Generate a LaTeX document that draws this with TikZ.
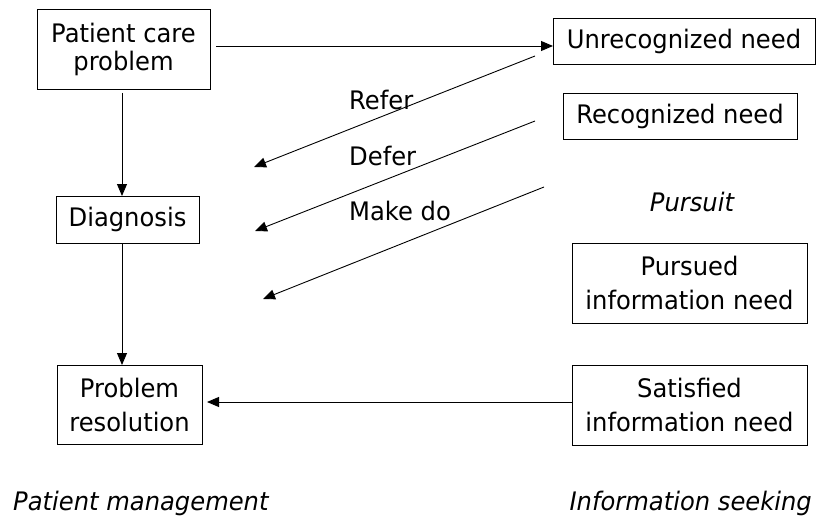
\documentclass[tikz,border=0pt]{standalone}
\usepackage{fontspec}
\setmainfont{DejaVu Sans}[FakeStretch=0.95]
\usetikzlibrary{arrows.meta}
\begin{document}
\begin{tikzpicture}[x=1pt,y=-1pt,
  box/.style={draw, line width=0.9pt, inner sep=0pt, align=center,
    font=\fontsize{25.5}{34}\selectfont},
  tight/.style={font=\fontsize{25.5}{28}\selectfont},
  lbl/.style={inner sep=0pt, font=\fontsize{25.5}{30}\selectfont},
  ital/.style={inner sep=0pt, font=\fontsize{25.5}{30}\selectfont\itshape},
  arr/.style={line width=0.9pt, -{Triangle[length=12pt,width=10pt]}}]
\useasboundingbox (0,0) rectangle (827,516);
\node[box, tight, minimum width=173pt, minimum height=80pt] (pcp) at (123.5,49) {Patient care\\problem};
\node[box, minimum width=143pt, minimum height=47pt] (diag) at (127.5,219.5) {Diagnosis};
\node[box, minimum width=145pt, minimum height=79pt] (pr) at (129.5,404.5) {Problem\\resolution};
\node[box, minimum width=262pt, minimum height=46pt] (unr) at (684,41) {Unrecognized need};
\node[box, minimum width=234pt, minimum height=46pt] (rec) at (680,116) {Recognized need};
\node[box, minimum width=235pt, minimum height=80pt] (pur) at (689.5,283) {Pursued\\information need};
\node[box, minimum width=235pt, minimum height=80pt] (sat) at (689.5,405) {Satisfied\\information need};
\node[ital] (pursuit) at (692,202) {Pursuit};
\node[ital, anchor=base west] (pm) at (13,510) {Patient management};
\node[ital, anchor=base east] (is) at (812,510) {Information seeking};
\node[lbl, anchor=base west] (refer) at (349,110) {Refer};
\node[lbl, anchor=base west] (defer) at (349,165) {Defer};
\node[lbl, anchor=base west] (makedo) at (349,220) {Make do};
% connector end points
\coordinate (a1) at (216,46);
\coordinate (a2) at (553,46);
\coordinate (v1) at (122,93);
\coordinate (v2) at (122,196);
\coordinate (v3) at (122,243);
\coordinate (v4) at (122,365);
\coordinate (h1) at (572,402);
\coordinate (h2) at (207,402);
\coordinate (r1) at (535,56);
\coordinate (r2) at (254,167);
\coordinate (d1) at (535,121);
\coordinate (d2) at (255,231);
\coordinate (m1) at (544,187);
\coordinate (m2) at (263,299);
\draw[arr] (a1) -- (a2);
\draw[arr] (v1) -- (v2);
\draw[arr] (v3) -- (v4);
\draw[arr] (h1) -- (h2);
\draw[arr] (r1) -- (r2);
\draw[arr] (d1) -- (d2);
\draw[arr] (m1) -- (m2);
\end{tikzpicture}
\end{document}
